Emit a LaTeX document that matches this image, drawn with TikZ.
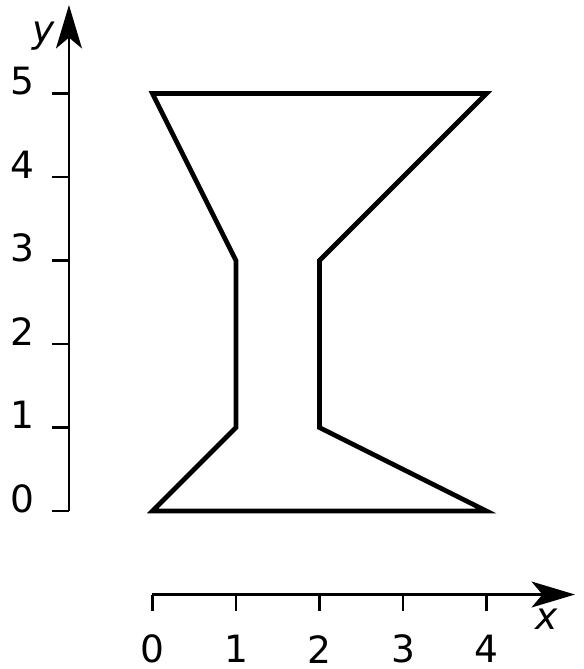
\documentclass[tikz,border=0pt]{standalone}
\usepackage{fontspec}
\setmainfont{DejaVu Sans}
\usetikzlibrary{arrows.meta}
\begin{document}
\begin{tikzpicture}[x=1cm,y=1cm,
  axisline/.style={line width=0.9pt,-{Stealth[length=5.2mm,width=3.1mm,inset=1.3mm]}},
  tickline/.style={line width=0.9pt},
  glassline/.style={line width=1.6pt,line join=miter},
  lbl/.style={inner sep=0pt,font=\fontsize{12.8}{14}\selectfont},
  axlbl/.style={inner sep=0pt,font=\fontsize{12.8}{14}\selectfont\itshape}]
\useasboundingbox (-1.826,-1.892) rectangle (5.156,6.120);
% y axis
\coordinate (ya) at (-1,0);
\coordinate (yb) at (-1,6.06);
\draw[axisline] (ya) -- (yb);
\foreach \k in {0,...,5}{
  \coordinate (yt\k) at (-1,\k);
  \coordinate (ys\k) at (-1.2,\k);
  \draw[tickline] (yt\k) -- (ys\k);
  \node[lbl] (yl\k) at (-1.563,\k+0.15) {\k};
}
\node[axlbl] (ylab) at (-1.30,5.69) {y};
% x axis
\coordinate (xa) at (0,-1);
\coordinate (xb) at (5.06,-1);
\draw[axisline] (xa) -- (xb);
\foreach \k in {0,...,4}{
  \coordinate (xt\k) at (\k,-1);
  \coordinate (xs\k) at (\k,-1.2);
  \draw[tickline] (xt\k) -- (xs\k);
  \node[lbl] (xl\k) at (\k,-1.655) {\k};
}
\node[axlbl] (xlab) at (4.72,-1.29) {x};
% glass outline
\coordinate (p1) at (0,5);
\coordinate (p2) at (4,5);
\coordinate (p3) at (2,3);
\coordinate (p4) at (2,1);
\coordinate (p5) at (4,0);
\coordinate (p6) at (0,0);
\coordinate (p7) at (1,1);
\coordinate (p8) at (1,3);
\draw[glassline] (p1) -- (p2) -- (p3) -- (p4) -- (p5) -- (p6) -- (p7) -- (p8) -- cycle;
\end{tikzpicture}
\end{document}
